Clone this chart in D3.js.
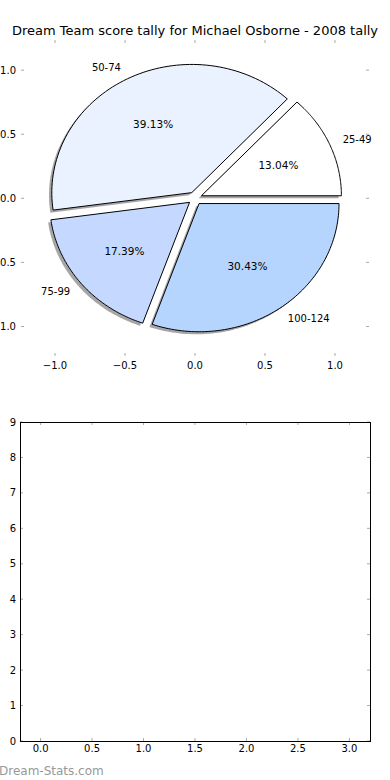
<!DOCTYPE html>
<html>
<head>
<meta charset="utf-8">
<script src="https://cdn.jsdelivr.net/npm/d3@7"></script>
<style>
body { margin:0; background:#fff; }
svg { display:block; }
text { font-family: "DejaVu Sans", sans-serif; fill:#000; }
</style>
</head>
<body>
<div id="content"></div>
<script>
var w = 390, h = 780;

var title = "Dream Team score tally for Michael Osborne - 2008 tally";
var labels = ["25-49", "50-74", "75-99", "100-124"];
var counts = [3, 9, 4, 7];
var colors = ["#ffffff", "#eaf2ff", "#c5d8ff", "#b5d5ff"];
var explode = [0.05, 0.05, 0.05, 0.05];
var pieTicks = [-1.0, -0.5, 0.0, 0.5, 1.0];
var barXTicks = [0.0, 0.5, 1.0, 1.5, 2.0, 2.5, 3.0];
var barYTicks = [0, 1, 2, 3, 4, 5, 6, 7, 8, 9];

var svg = d3.select("#content").append("svg")
    .attr("width", w)
    .attr("height", h);

var tickColor = "#aaa";
var fmt = function(d){ return d3.format(".1f")(d).replace("-", "\u2212"); };

// ---- pie axes
var px = d3.scaleLinear().domain([-1.243, 1.243]).range([21, 369]);
var py = d3.scaleLinear().domain([-1.23, 1.235]).range([356, 40]);

svg.append("text")
   .attr("x", 195)
   .attr("y", 35)
   .attr("text-anchor", "middle")
   .attr("font-size", "13px")
   .text(title);

var total = d3.sum(counts);
var arcs = d3.pie().sort(null).value(function(d){ return d; })(counts);

var slices = arcs.map(function(a, i){
    var mid = (a.startAngle + a.endAngle) / 2;
    return {
        label: labels[i],
        color: colors[i],
        pct: a.value / total * 100,
        a0: a.startAngle, a1: a.endAngle, mid: mid,
        cx: explode[i] * Math.cos(mid),
        cy: explode[i] * Math.sin(mid)
    };
});

function slicePath(s, ox, oy){
    var pts = [[s.cx, s.cy]];
    var n = 80;
    for (var k = 0; k <= n; k++){
        var t = s.a0 + (s.a1 - s.a0) * k / n;
        pts.push([s.cx + Math.cos(t), s.cy + Math.sin(t)]);
    }
    return d3.line()
        .x(function(p){ return px(p[0] + ox); })
        .y(function(p){ return py(p[1] + oy); })(pts) + "Z";
}

var pieG = svg.append("g");

pieG.selectAll("path.shadow")
    .data(slices)
    .enter()
    .append("path")
    .attr("class", "shadow")
    .attr("d", function(d){ return slicePath(d, -0.02, -0.02); })
    .attr("fill", "#4d4d4d")
    .attr("fill-opacity", 0.5);

pieG.selectAll("path.slice")
    .data(slices)
    .enter()
    .append("path")
    .attr("class", "slice")
    .attr("d", function(d){ return slicePath(d, 0, 0); })
    .attr("fill", function(d){ return d.color; })
    .attr("stroke", "#000")
    .attr("stroke-width", 1);

pieG.selectAll("text.lbl")
    .data(slices)
    .enter()
    .append("text")
    .attr("class", "lbl")
    .attr("font-size", "10px")
    .attr("dy", "0.35em")
    .attr("x", function(d){ return px(d.cx + 1.1 * Math.cos(d.mid)); })
    .attr("y", function(d){ return py(d.cy + 1.1 * Math.sin(d.mid)); })
    .attr("text-anchor", function(d){ return Math.cos(d.mid) > 0 ? "start" : "end"; })
    .text(function(d){ return d.label; });

pieG.selectAll("text.pct")
    .data(slices)
    .enter()
    .append("text")
    .attr("class", "pct")
    .attr("font-size", "10.5px")
    .attr("dy", "0.35em")
    .attr("text-anchor", "middle")
    .attr("x", function(d){ return px(d.cx + 0.6 * Math.cos(d.mid)); })
    .attr("y", function(d){ return py(d.cy + 0.6 * Math.sin(d.mid)); })
    .text(function(d){ return d.pct.toFixed(2) + "%"; });

// pie ticks (no frame)
var tk = svg.append("g");
var pyTop = py.range()[1], pyBot = py.range()[0], pxL = px.range()[0], pxR = px.range()[1];
pieTicks.forEach(function(v){
    tk.append("line").attr("x1", px(v)).attr("x2", px(v)).attr("y1", pyTop).attr("y2", pyTop + 3).attr("stroke", tickColor);
    tk.append("line").attr("x1", px(v)).attr("x2", px(v)).attr("y1", pyBot).attr("y2", pyBot - 3).attr("stroke", tickColor);
    tk.append("line").attr("y1", py(v)).attr("y2", py(v)).attr("x1", pxL).attr("x2", pxL + 3).attr("stroke", tickColor);
    tk.append("line").attr("y1", py(v)).attr("y2", py(v)).attr("x1", pxR).attr("x2", pxR - 3).attr("stroke", tickColor);
    tk.append("text").attr("x", px(v)).attr("y", pyBot + 13).attr("text-anchor", "middle")
      .attr("font-size", "10px").text(fmt(v));
    tk.append("text").attr("x", pxL - 5).attr("y", py(v)).attr("dy", "0.35em").attr("text-anchor", "end")
      .attr("font-size", "10px").text(fmt(v));
});

// ---- empty lower axes
var bx = d3.scaleLinear().domain([-0.2, 3.2]).range([20, 370]);
var by = d3.scaleLinear().domain([0, 9]).range([741, 422]);

var bg = svg.append("g");
barXTicks.forEach(function(v){
    bg.append("line").attr("x1", bx(v)).attr("x2", bx(v)).attr("y1", by(0)).attr("y2", by(0) - 3).attr("stroke", tickColor);
    bg.append("line").attr("x1", bx(v)).attr("x2", bx(v)).attr("y1", by(9)).attr("y2", by(9) + 3).attr("stroke", tickColor);
    bg.append("text").attr("x", bx(v)).attr("y", by(0) + 11).attr("text-anchor", "middle")
      .attr("font-size", "10px").text(d3.format(".1f")(v));
});
barYTicks.forEach(function(v){
    bg.append("line").attr("y1", by(v)).attr("y2", by(v)).attr("x1", bx(-0.2)).attr("x2", bx(-0.2) + 3).attr("stroke", tickColor);
    bg.append("line").attr("y1", by(v)).attr("y2", by(v)).attr("x1", bx(3.2)).attr("x2", bx(3.2) - 3).attr("stroke", tickColor);
    bg.append("text").attr("x", bx(-0.2) - 4).attr("y", by(v)).attr("dy", "0.35em").attr("text-anchor", "end")
      .attr("font-size", "10px").text(v);
});
bg.append("rect")
  .attr("x", bx(-0.2) + 0.5)
  .attr("y", by(9) + 0.5)
  .attr("width", bx(3.2) - bx(-0.2))
  .attr("height", by(0) - by(9))
  .attr("fill", "none")
  .attr("stroke", "#000")
  .attr("stroke-width", 1);

svg.append("text")
   .attr("x", -1)
   .attr("y", 775)
   .attr("font-size", "12px")
   .style("fill", "#999")
   .text("Dream-Stats.com");
</script>
</body>
</html>
